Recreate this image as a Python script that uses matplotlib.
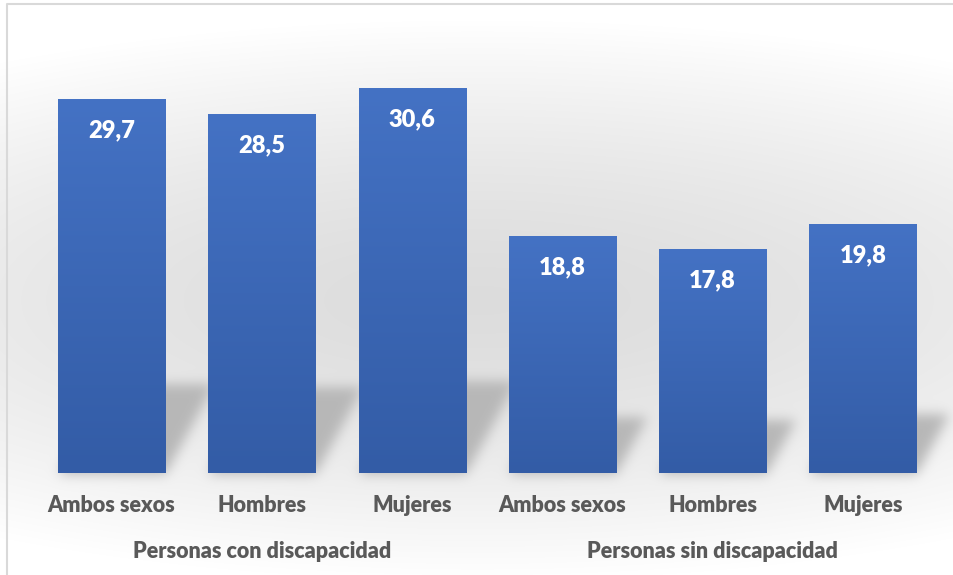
import numpy as np
import matplotlib
matplotlib.use("Agg")
import matplotlib.pyplot as plt

# ---------------- data ----------------
categories = ["Ambos sexos", "Hombres", "Mujeres", "Ambos sexos", "Hombres", "Mujeres"]
groups = ["Personas con discapacidad", "Personas sin discapacidad"]
values = [29.7, 28.5, 30.6, 18.8, 17.8, 19.8]
value_labels = ["29,7", "28,5", "30,6", "18,8", "17,8", "19,8"]

W, H = 954, 575
plt.rcParams['font.family'] = ['Lato', 'DejaVu Sans']

fig = plt.figure(figsize=(W / 100, H / 100), dpi=100)

# main axes
ax = fig.add_axes([36.5 / W, 102 / H, 901.5 / W, 453 / H])
ax.patch.set_alpha(0)
for s in ax.spines.values():
    s.set_visible(False)
ax.set_yticks([])
ax.set_xticks([])

x = np.arange(len(values))
bars = ax.bar(x, values, width=0.713, color='none', zorder=2)

# gradient fill for each bar
top_c = np.array([0x44, 0x72, 0xC4]) / 255
bot_c = np.array([0x33, 0x5C, 0xA6]) / 255
grad = np.linspace(0, 1, 256)[:, None]
grad_img = (top_c[None, None, :] * (1 - grad[..., None]) + bot_c[None, None, :] * grad[..., None])
for b in bars:
    x0, w, h = b.get_x(), b.get_width(), b.get_height()
    im = ax.imshow(grad_img, extent=[x0, x0 + w, 0, h], aspect='auto',
                   origin='upper', zorder=2, interpolation='bilinear')
    im.set_clip_path(b)
ax.set_xlim(-0.5, len(values) - 0.5)
ax.set_ylim(0, 453 / 12.58)

# value labels inside bars
for xi, v, lab in zip(x, values, value_labels):
    ax.annotate(lab, (xi, v), xytext=(0, -27.4), textcoords='offset points',
                ha='center', va='baseline', color='white', fontsize=17,
                fontweight='heavy', zorder=4)

# category and group labels
for xi, lab in zip(x, categories):
    ax.annotate(lab, (xi, 0), xytext=(0, -28.1), textcoords='offset points',
                ha='center', va='baseline', color='#595959', fontsize=15.5,
                fontweight='heavy', annotation_clip=False)
for gi, lab in enumerate(groups):
    ax.annotate(lab, (gi * 3 + 1, 0), xytext=(0, -61.2), textcoords='offset points',
                ha='center', va='baseline', color='#595959', fontsize=15.5,
                fontweight='heavy', annotation_clip=False)

# ---------------- background with soft shading and bar shadows ----------------
yy, xx = np.mgrid[0:H, 0:W].astype(float)
r = np.sqrt(((xx - 477) / 900) ** 2 + ((yy - 300) / 280) ** 2)
bg = 0.865 + (1 - 0.865) * np.clip(r, 0, 1) ** 1.5

# shadow mask (display coords -> image rows)
mask = np.zeros((H, W))
ydisp = H - yy
for b in bars:
    (px0, py0), (px1, py1) = ax.transData.transform(
        [(b.get_x(), 0), (b.get_x() + b.get_width(), b.get_height())])
    sh = 0.24 * (py1 - py0)
    t = ydisp - py0
    skew = 0.55 * t
    inside = (t >= 0) & (t <= sh) & (xx >= px0 + skew) & (xx <= px1 + skew)
    mask[inside] = 1.0

sigma = 6.0
k = np.arange(-18, 19)
kern = np.exp(-k ** 2 / (2 * sigma ** 2))
kern /= kern.sum()
mask = np.apply_along_axis(lambda m: np.convolve(m, kern, mode='same'), 1, mask)
mask = np.apply_along_axis(lambda m: np.convolve(m, kern, mode='same'), 0, mask)
bg = bg * (1 - mask) + 0.72 * mask

bgax = fig.add_axes([0, 0, 1, 1], zorder=-1)
bgax.imshow(np.dstack([bg, bg, bg]), extent=[0, W, 0, H], aspect='auto',
            origin='upper', interpolation='nearest')
bgax.set_xlim(0, W)
bgax.set_ylim(0, H)
bgax.axis('off')
# chart border (only top / left fall inside the picture)
bgax.plot([7, 7, W + 5], [-5, H - 4, H - 4], color='#d9d9d9', lw=1.5)

fig.savefig('out.png', dpi=100)
